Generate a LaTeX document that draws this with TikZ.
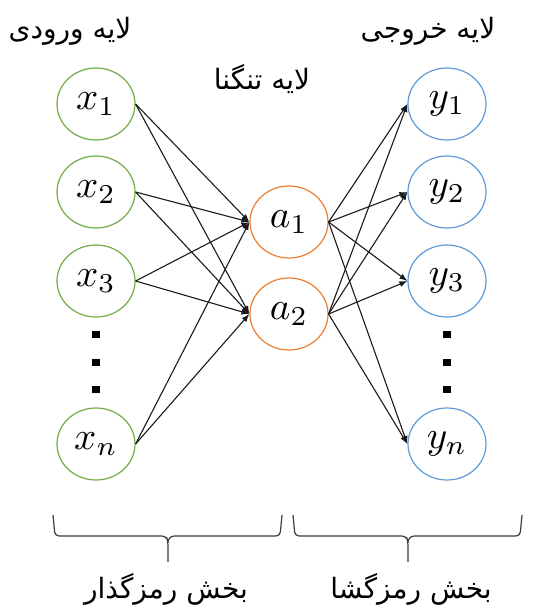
\documentclass[tikz,border=0pt]{standalone}
\usepackage{graphicx}
\usepackage{fontspec}
\usetikzlibrary{arrows.meta,shapes.geometric,positioning}
\TeXXeTstate=1
\newfontfamily\farsi[Script=Arabic]{DejaVu Sans}
\newcommand\unitlabel[1]{\scalebox{3.9}{$#1$}}
\definecolor{ink}{HTML}{1A1A1A}
\definecolor{ingreen}{HTML}{70AD47}
\definecolor{midorange}{HTML}{ED7D31}
\definecolor{outblue}{HTML}{5B9BD5}
\tikzset{
  unit/.style={ellipse,draw,line width=1.2pt,minimum width=78pt,minimum height=72pt,inner sep=0pt},
  inunit/.style={unit,draw=ingreen},
  midunit/.style={unit,draw=midorange},
  outunit/.style={unit,draw=outblue},
  link/.style={-{Latex[length=8pt,width=6pt]},line width=1.1pt,draw=ink},
  layertitle/.style={font=\farsi\fontsize{28}{32}\selectfont,inner sep=0pt},
  brace/.style={line width=1.2pt,draw=ink!85,rounded corners=4pt}
}

\begin{document}
\begin{tikzpicture}[x=1pt,y=-1pt]
  \useasboundingbox (0,0) rectangle (558,611);
  \def\xin{96}
  \def\xmid{289}
  \def\xout{447}

  % input and output units
  \foreach \n/\y in {1/104,2/192,3/281,n/444} {
    \node[inunit] (x\n) at (\xin,\y) {\unitlabel{x_\n}};
    \node[outunit] (y\n) at (\xout,\y) {\unitlabel{y_\n}};
  }
  % bottleneck
  \node[midunit] (a1) at (\xmid,222) {\unitlabel{a_1}};
  \node[midunit] (a2) at (\xmid,314) {\unitlabel{a_2}};

  % vertical dots
  \foreach \y in {334,362,389} {
    \fill[black] (\xin-4,\y-3.5) rectangle (\xin+4,\y+3.5);
    \fill[black] (\xout-4,\y-3.5) rectangle (\xout+4,\y+3.5);
  }

  % connections
  \foreach \n in {1,2,3,n} {
    \draw[link] (x\n.east) -- (a1.west);
    \draw[link] (x\n.east) -- (a2.west);
    \draw[link] (a1.east) -- (y\n.west);
    \draw[link] (a2.east) -- (y\n.west);
  }

  % layer titles
  \node[layertitle] (tin) at (70,31) {\beginR لایه ورودی\endR};
  \node[layertitle] (tout) at (428,31) {\beginR لایه خروجی\endR};
  \node[layertitle] (tmid) at (262,79) {\beginR لایه تنگنا\endR};

  % braces
  \draw[brace] (53,515) -- (55,536) -- (166,536) -- (168,541) -- (168,562);
  \draw[brace] (168,541) -- (170,536) -- (280,536) -- (282,515);
  \draw[brace] (293,515) -- (295,536) -- (406,536) -- (408,541) -- (408,562);
  \draw[brace] (408,541) -- (410,536) -- (520,536) -- (522,515);

  \node[layertitle] (enc) at (166,589) {\beginR بخش رمزگذار\endR};
  \node[layertitle] (dec) at (411,589) {\beginR بخش رمزگشا\endR};
\end{tikzpicture}
\end{document}
